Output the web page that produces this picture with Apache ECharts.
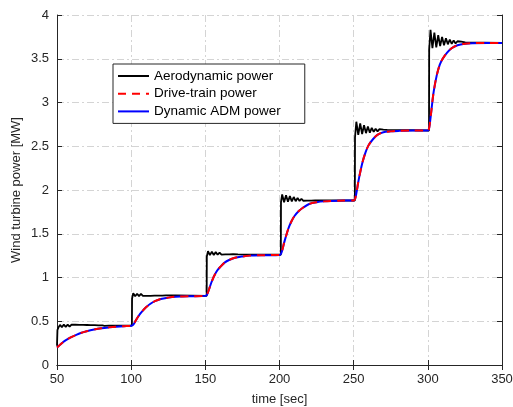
<!DOCTYPE html>
<html><head><meta charset="utf-8">
<script src="https://cdn.jsdelivr.net/npm/echarts@6/dist/echarts.min.js"></script>
<style>html,body{margin:0;padding:0;background:#fff}#c{width:513px;height:407px}</style>
</head><body><div id="c"></div>
<script>
var xTicks = [50, 100, 150, 200, 250, 300, 350];
var yTicks = [0, 0.5, 1, 1.5, 2, 2.5, 3, 3.5, 4];
var seriesNames = ['Aerodynamic power', 'Drive-train power', 'Dynamic ADM power'];

var aeroT = [50, 50.3, 51.0, 52.0, 53.3, 54.6, 55.9, 57.2, 58.5, 59.8, 61.1, 62.4, 63.7, 65.0, 66.3, 67.6, 68.9, 70.2, 71.5, 72.8, 74.1, 75.4, 76.7, 78.0, 79.3, 80.6, 82.0, 85, 100.5,
  100.6, 101.4, 102.7, 104.0, 105.3, 106.6, 107.9, 109.2, 110.5, 111.8, 113.1, 114.4, 115.7, 117.0, 118.3, 119.6, 120.9, 122.2, 123.5, 124.8, 126.1, 127.4, 130, 150.9,
  151.0, 151.8, 153.1, 154.4, 155.7, 157.0, 158.3, 159.6, 160.9, 162.2, 163.5, 164.8, 166.1, 167.4, 168.7, 170.0, 172, 200.9,
  201.0, 201.8, 203.1, 204.4, 205.7, 207.0, 208.3, 209.6, 210.9, 212.2, 213.5, 214.8, 216.1, 217.4, 218.7, 220.0, 221.3, 222.6, 224, 250.8,
  250.9, 251.8, 253.1, 254.4, 255.7, 257.0, 258.3, 259.6, 260.9, 262.2, 263.5, 264.8, 266.1, 267.4, 268.7, 270.0, 271.3, 272.6, 273.9, 300.8,
  300.9, 301.8, 303.1, 304.4, 305.7, 307.0, 308.3, 309.6, 310.9, 312.2, 313.5, 314.8, 316.1, 317.4, 318.7, 320.0, 321.3, 322.6, 323.9, 325.2, 326.5, 350];
var aeroP = [0.22, 0.40, 0.43, 0.458, 0.432, 0.462, 0.436, 0.462, 0.438, 0.461, 0.44, 0.46, 0.441, 0.459, 0.442, 0.458, 0.443, 0.457, 0.444, 0.456, 0.445, 0.455, 0.446, 0.454, 0.447, 0.453, 0.448, 0.45, 0.451,
  0.76, 0.82, 0.785, 0.815, 0.787, 0.812, 0.789, 0.809, 0.79, 0.806, 0.791, 0.804, 0.792, 0.802, 0.793, 0.800, 0.794, 0.799, 0.795, 0.798, 0.795, 0.797, 0.795, 0.79,
  1.24, 1.30, 1.255, 1.295, 1.258, 1.29, 1.26, 1.285, 1.262, 1.28, 1.264, 1.277, 1.265, 1.274, 1.266, 1.271, 1.265, 1.26,
  1.86, 1.95, 1.86, 1.94, 1.865, 1.93, 1.87, 1.92, 1.872, 1.91, 1.875, 1.90, 1.877, 1.895, 1.878, 1.89, 1.879, 1.886, 1.88, 1.88,
  2.60, 2.78, 2.63, 2.76, 2.64, 2.74, 2.65, 2.725, 2.655, 2.71, 2.665, 2.70, 2.67, 2.695, 2.675, 2.69, 2.678, 2.686, 2.68, 2.68,
  3.60, 3.83, 3.62, 3.80, 3.63, 3.77, 3.645, 3.75, 3.655, 3.735, 3.665, 3.72, 3.67, 3.71, 3.675, 3.70, 3.68, 3.695, 3.68, 3.688, 3.68, 3.68];

var driveT = [50, 52, 54, 56, 58, 60, 63, 66, 70, 75, 80, 85, 90, 95, 100,
  101, 102, 103, 104, 106, 108, 110, 113, 116, 120, 125, 130, 140, 150,
  151, 152, 153, 154, 156, 158, 160, 163, 166, 170, 175, 180, 190, 200,
  201, 202, 203, 204, 206, 208, 210, 213, 216, 220, 225, 230, 240, 250,
  251, 252, 253, 254, 256, 258, 260, 263, 266, 270, 275, 280, 290, 300,
  301, 302, 303, 304, 306, 308, 310, 313, 316, 320, 325, 330, 340, 350];
var driveP = [0.20, 0.23, 0.26, 0.285, 0.305, 0.322, 0.345, 0.365, 0.385, 0.405, 0.42, 0.43, 0.438, 0.444, 0.448,
  0.455, 0.475, 0.505, 0.535, 0.585, 0.625, 0.66, 0.70, 0.73, 0.755, 0.77, 0.78, 0.786, 0.79,
  0.80, 0.84, 0.89, 0.94, 1.02, 1.08, 1.12, 1.17, 1.20, 1.225, 1.24, 1.25, 1.255, 1.258,
  1.27, 1.32, 1.39, 1.45, 1.56, 1.64, 1.70, 1.76, 1.80, 1.84, 1.86, 1.87, 1.878, 1.88,
  1.90, 1.98, 2.08, 2.17, 2.32, 2.43, 2.51, 2.58, 2.63, 2.66, 2.67, 2.675, 2.68, 2.68,
  2.72, 2.85, 3.00, 3.13, 3.31, 3.43, 3.50, 3.57, 3.62, 3.655, 3.672, 3.678, 3.68, 3.68];
var admT = driveT.slice();
var admP = [0.20, 0.23, 0.26, 0.285, 0.305, 0.322, 0.345, 0.365, 0.385, 0.405, 0.42, 0.43, 0.438, 0.444, 0.448,
  0.455, 0.475, 0.505, 0.535, 0.585, 0.625, 0.66, 0.70, 0.73, 0.755, 0.77, 0.78, 0.786, 0.79,
  0.80, 0.84, 0.89, 0.94, 1.02, 1.08, 1.12, 1.17, 1.20, 1.225, 1.24, 1.25, 1.255, 1.258,
  1.27, 1.32, 1.39, 1.45, 1.56, 1.64, 1.70, 1.76, 1.80, 1.84, 1.86, 1.87, 1.878, 1.88,
  1.90, 1.98, 2.08, 2.17, 2.32, 2.43, 2.51, 2.58, 2.63, 2.66, 2.67, 2.675, 2.68, 2.68,
  2.72, 2.85, 3.00, 3.13, 3.31, 3.43, 3.50, 3.57, 3.62, 3.655, 3.672, 3.678, 3.68, 3.68];

function zip(t, v) { return t.map(function (x, i) { return [x, v[i]]; }); }

var chart = echarts.init(document.getElementById('c'), null, {renderer: 'canvas'});
var txt = '#262626';
var font = 'Liberation Sans, Arial, Helvetica, sans-serif';
var gridLine = {show: true, lineStyle: {color: '#d4d4d4', width: 1, type: [7, 3, 2, 3]}};
chart.setOption({
  animation: false,
  backgroundColor: '#fff',
  textStyle: {fontFamily: font},
  grid: {left: 57, right: 11, top: 15, bottom: 42, show: false, containLabel: false, outerBoundsMode: 'none'},
  legend: {
    orient: 'vertical', left: 113, top: 64,
    itemWidth: 31, itemHeight: 14, itemGap: 3.7,
    padding: [5, 24, 5, 4],
    borderColor: '#262626', borderWidth: 1, backgroundColor: '#fff',
    itemStyle: {opacity: 0},
    textStyle: {color: '#000', fontSize: 13.5, fontFamily: font},
    data: seriesNames
  },
  xAxis: [{
    type: 'value', min: xTicks[0], max: xTicks[xTicks.length - 1], interval: 50,
    name: 'time [sec]', nameLocation: 'middle', nameGap: 28, nameMoveOverlap: false,
    nameTextStyle: {color: txt, fontSize: 13, fontFamily: font},
    axisLine: {show: true, lineStyle: {color: txt, width: 1}},
    axisTick: {show: true, inside: true, length: 5, lineStyle: {color: txt}},
    axisLabel: {color: txt, fontSize: 13, fontFamily: font, margin: 8},
    splitLine: gridLine
  }, {
    type: 'value', position: 'top', min: xTicks[0], max: xTicks[xTicks.length - 1], interval: 50,
    axisLine: {show: true, lineStyle: {color: txt, width: 1}},
    axisTick: {show: true, inside: true, length: 5, lineStyle: {color: txt}},
    axisLabel: {show: false}, splitLine: {show: false}
  }],
  yAxis: [{
    type: 'value', min: yTicks[0], max: yTicks[yTicks.length - 1], interval: 0.5,
    name: 'Wind turbine power [MW]', nameLocation: 'middle', nameGap: 34, nameMoveOverlap: false,
    nameTextStyle: {color: txt, fontSize: 13, fontFamily: font},
    axisLine: {show: true, lineStyle: {color: txt, width: 1}},
    axisTick: {show: true, inside: true, length: 5, lineStyle: {color: txt}},
    axisLabel: {color: txt, fontSize: 13, fontFamily: font, margin: 8},
    splitLine: gridLine
  }, {
    type: 'value', position: 'right', min: yTicks[0], max: yTicks[yTicks.length - 1], interval: 0.5,
    axisLine: {show: true, lineStyle: {color: txt, width: 1}},
    axisTick: {show: true, inside: true, length: 5, lineStyle: {color: txt}},
    axisLabel: {show: false}, splitLine: {show: false}
  }],
  series: [{
    name: seriesNames[0], type: 'line', symbol: 'none', z: 2,
    data: zip(aeroT, aeroP),
    lineStyle: {color: '#000', width: 1.8}, itemStyle: {color: '#000'}
  }, {
    name: seriesNames[1], type: 'line', symbol: 'none', z: 4, smooth: 0.3,
    data: zip(driveT, driveP),
    lineStyle: {color: '#ff0000', width: 2, type: [8, 6]}, itemStyle: {color: '#ff0000'}
  }, {
    name: seriesNames[2], type: 'line', symbol: 'none', z: 3, smooth: 0.3,
    data: zip(admT, admP),
    lineStyle: {color: '#0000ff', width: 2}, itemStyle: {color: '#0000ff'}
  }]
});
</script></body></html>
